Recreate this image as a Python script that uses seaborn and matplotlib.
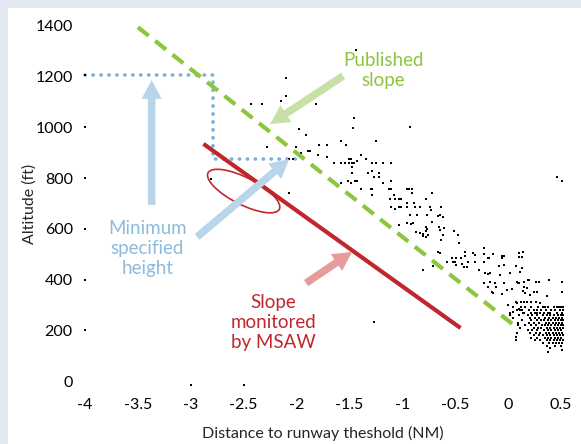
import matplotlib
matplotlib.use("Agg")
import matplotlib.pyplot as plt
import matplotlib.transforms as mtransforms
from matplotlib.patches import Ellipse, Rectangle
import seaborn as sns
import pandas as pd

# ---------------- data ----------------
# sparse recorded approaches (distance NM, altitude ft)
dist_nm = [
    -4.00, -4.00, -4.00, -4.00, -4.00, -4.00, -3.00, -2.50,
    -2.81, -2.07, -1.27, -1.44,
    -2.10, -2.10, -2.15, -2.43, -2.33, -1.82,
    -1.46, -1.47, -0.93,
    -1.98, -1.91, -2.28, -2.01, -1.89, -1.87,
    -1.79, -1.71, -1.58, -1.53, -1.25,
    -1.96, -1.80, -1.71, -2.07, -2.03,
    -1.65, -1.58, -1.54, -1.50, -1.50, -1.48, -1.46,
    -1.39, -1.34, -1.49, -1.43,
    -1.29, -1.25, -1.18, -1.11,
    -1.48, -1.29, -1.32, -1.48, -1.22, -1.22, -1.27, -1.18, -1.11,
    -1.51, -1.49, -1.45, -1.43, -1.58,
    -1.39, -1.30, -1.29, -1.13, -1.11, -0.96, -0.91, -0.94,
    -1.29, -1.08, -0.91, -0.72,
    -1.12, -1.07, -1.03, -0.78, -1.01,
    -0.96, -0.89,
    -1.11, -1.03, -1.01, -0.96, -0.88, -0.83, -0.74, -0.73, -0.63, -1.07,
    -0.93, -0.86, -0.77, -0.66, -0.64, -0.62,
    -0.96, -0.92, -0.90, -1.03, -0.72,
    -0.78, -0.77, -0.78, -0.80, -0.80, -0.78, -0.76,
    -0.65, -0.64, -0.61, -0.87, -0.83, -0.51, -0.47, -0.62, -0.63, -0.46,
    -0.71, -0.66, -0.80, -0.66, -0.64,
    -0.23, -0.41, -0.33, -0.31, -0.41,
    -0.23, -0.14, -0.06, 0.10, 0.10,
    -0.58, -0.53, -0.49, -0.50, -0.45,
    -0.42, -0.38, -0.31, -0.23, -0.19, -0.18,
    -0.09, -0.04, 0.07, 0.13, -0.28,
    -0.22, -0.19, -0.17, -0.08, 0.02, 0.11, 0.19,
    -0.23, -0.17, -0.12, -0.04, 0.08, 0.10,
    -0.19, -0.11, -0.01, 0.14, 0.18,
    -0.15, -0.14, -0.06,
    0.14, 0.13, -0.04, -0.06,
    -0.52, -0.49, -0.44, -0.39,
    0.09, 0.15, 0.20, 0.26, 0.29, 0.39, 0.51,
    0.15, 0.24, 0.27, 0.51, 0.16, 0.21, 0.37, 0.04,
    0.00, 0.07, 0.08, 0.12, 0.15, 0.18, 0.22, 0.26,
    0.30, 0.35, 0.38, 0.43, 0.46, 0.49, 0.52,
    0.10, 0.13, 0.27, 0.05, 0.02, 0.15, 0.27,
    0.02, 0.09, 0.08, 0.07, 0.075,
    0.40, 0.38, 0.51,
    0.46, 0.51,
]
alt_ft = [
    1205, 1000, 800, 600, 400, 200, -15, -15,
    796, 742, 233, 1305,
    1193, 1124, 1105, 1092, 1092, 1092,
    1036, 996, 1003,
    995, 971, 924, 924, 908, 908,
    932, 932, 948, 932, 946,
    900, 891, 883, 877, 877,
    861, 861, 861, 874, 861, 861, 861,
    892, 875, 875, 869,
    861, 861, 861, 861,
    842, 828, 820, 821, 821, 803, 803, 782, 790,
    790, 782, 790, 790, 782,
    756, 756, 756, 756, 756, 756, 756, 756,
    733, 733, 740, 740,
    719, 719, 719, 719, 719,
    700, 700,
    685, 685, 685, 685, 685, 685, 685, 674, 685, 677,
    655, 655, 655, 650, 655, 645,
    622, 619, 624, 615, 628,
    607, 600, 590, 580, 570, 566, 575,
    608, 595, 602, 589, 585, 591, 576, 576, 556, 543,
    455, 455, 437, 510, 503,
    526, 510, 503, 497, 493,
    499, 499, 494, 503, 490,
    470, 486, 486, 470, 486,
    451, 468, 470, 468, 486, 486,
    455, 457, 455, 444, 437,
    425, 421, 425, 418, 425, 431, 398,
    385, 392, 388, 385, 392, 388,
    372, 372, 359, 355, 366,
    352, 346, 343,
    510, 488, 493, 484,
    468, 457, 461, 451,
    385, 389, 398, 389, 392, 398, 389,
    369, 352, 352, 352, 346, 339, 336, 362,
    300, 313, 306, 313, 310, 313, 310, 310,
    306, 293, 293, 290, 290, 290, 290,
    283, 280, 280, 273, 267, 267, 267,
    260, 220, 190, 175, 160,
    129, 115, 122,
    806, 789,
]

# dense cluster near the threshold: altitude rows and the distances in each row
cluster_alt_ft = [290, 280, 270, 260, 250, 240, 230, 220, 210, 200, 190, 180, 170, 160, 150, 140]
cluster_dist_nm = [
    [0.05, 0.12, 0.16, 0.22, 0.28, 0.33, 0.38, 0.43, 0.47, 0.50],
    [0.08, 0.11, 0.20, 0.24, 0.27, 0.31, 0.36, 0.41, 0.44, 0.49, 0.52],
    [0.02, 0.14, 0.22, 0.25, 0.30, 0.34, 0.38, 0.40, 0.46, 0.51],
    [0.10, 0.19, 0.23, 0.27, 0.33, 0.37, 0.40, 0.43, 0.47, 0.50, 0.52],
    [0.05, 0.21, 0.25, 0.29, 0.35, 0.39, 0.42, 0.45, 0.48, 0.51],
    [0.13, 0.22, 0.27, 0.31, 0.34, 0.38, 0.41, 0.44, 0.47, 0.50, 0.52],
    [0.09, 0.20, 0.24, 0.29, 0.36, 0.39, 0.42, 0.45, 0.48, 0.51],
    [0.16, 0.22, 0.26, 0.32, 0.35, 0.38, 0.41, 0.44, 0.47, 0.50, 0.52],
    [0.11, 0.24, 0.28, 0.31, 0.37, 0.40, 0.43, 0.46, 0.49, 0.52],
    [0.19, 0.23, 0.27, 0.34, 0.38, 0.41, 0.44, 0.47, 0.50],
    [0.08, 0.21, 0.26, 0.30, 0.36, 0.39, 0.42, 0.45, 0.48, 0.51],
    [0.24, 0.29, 0.33, 0.37, 0.40, 0.43, 0.46, 0.49, 0.52],
    [0.22, 0.27, 0.35, 0.38, 0.41, 0.44, 0.47, 0.50],
    [0.25, 0.30, 0.37, 0.40, 0.43, 0.46, 0.49, 0.52],
    [0.33, 0.39, 0.42, 0.45, 0.48, 0.51],
    [0.37, 0.44, 0.50],
]

# reference lines
published_x = [-3.5, 0.1]
published_y = [1395, 205]
msaw_x = [-2.88, -0.45]
msaw_y = [935, 209]
msh_x = [-4.0, -2.79, -2.79, -1.95]
msh_y = [1205, 1205, 877, 877]

x_ticks = [-4, -3.5, -3, -2.5, -2, -1.5, -1, -0.5, 0, 0.5]
x_tick_labels = ["-4", "-3.5", "-3", "-2.5", "-2", "-1.5", "-1", "-0.5", "0", "0.5"]
y_ticks = [0, 200, 400, 600, 800, 1000, 1200, 1400]

# ---------------- build table ----------------
xs = list(dist_nm)
ys = list(alt_ft)
for a, row in zip(cluster_alt_ft, cluster_dist_nm):
    for d in row:
        xs.append(d)
        ys.append(a)
df = pd.DataFrame({"dist": xs, "alt": ys})

# ---------------- style ----------------
sns.set_style("white")
plt.rcParams["font.family"] = ["Lato", "DejaVu Sans"]

GREEN = "#8cc63f"
GREEN_L = "#c6e0a6"
BLUE = "#7ab3d9"
BLUE_T = "#8dbbdc"
BLUE_L = "#b9d5ea"
RED = "#c0272d"
RED_L = "#e89b9b"

fig = plt.figure(figsize=(5.81, 4.44), dpi=100)
fig.patch.set_facecolor("#e4e9f1")
fig.patches.append(Rectangle((8 / 581, 0), 1, 436 / 444, transform=fig.transFigure,
                             facecolor="white", edgecolor="none", zorder=-10))
ax = fig.add_axes([0.1372, 0.1133, 0.8375, 0.8568])
ax.set_facecolor("none")

sns.scatterplot(data=df, x="dist", y="alt", ax=ax, marker="s", s=3.6,
                color="#000000", linewidth=0, zorder=3)

# lines
ax.plot(msh_x, msh_y, color=BLUE, lw=2.6, linestyle=(0, (0.1, 2.1)),
        dash_capstyle="round", zorder=2)
ax.plot(published_x, published_y, color=GREEN, lw=3.0, linestyle=(0, (3.3, 2.0)),
        dash_capstyle="butt", zorder=4)
ax.plot(msaw_x, msaw_y, color=RED, lw=3.0, solid_capstyle="butt", zorder=4)

# ellipse (display-sized, centred in data coords)
ell_tr = fig.dpi_scale_trans + mtransforms.ScaledTranslation(-2.50, 749, ax.transData)
ax.add_patch(Ellipse((0, 0), 0.80, 0.27, angle=-27, transform=ell_tr,
                     facecolor="none", edgecolor=RED, lw=1.2, zorder=4))

# arrows
def arrow(tail, head, color):
    ax.annotate("", xy=head, xytext=tail,
                arrowprops=dict(arrowstyle="simple,head_length=0.8,head_width=0.85,tail_width=0.32",
                                color=color, mutation_scale=17, shrinkA=0, shrinkB=0,
                                lw=0), zorder=5)

arrow((-1.56, 1203), (-2.25, 1013), GREEN_L)
arrow((-3.37, 694), (-3.37, 1187), BLUE_L)
arrow((-2.94, 568), (-2.07, 875), BLUE_L)
arrow((-1.91, 386), (-1.475, 509), RED_L)

# annotation texts
ax.text(-1.18, 1224, "Published\nslope", color=GREEN, fontsize=13.5, ha="center",
        va="center", linespacing=1.22, zorder=6)
ax.text(-3.41, 522, "Minimum\nspecified\nheight", color=BLUE_T, fontsize=13.5,
        ha="center", va="center", linespacing=1.22, zorder=6)
ax.text(-2.22, 230, "Slope\nmonitored\nby MSAW", color=RED, fontsize=13.5,
        ha="center", va="center", linespacing=1.22, zorder=6)

# axes
ax.set_xlim(-4.05, 0.55)
ax.set_ylim(-50, 1450)
ax.set_xticks(x_ticks)
ax.set_xticklabels(x_tick_labels)
ax.set_yticks(y_ticks)
ax.tick_params(axis="both", length=0, labelsize=11.5, colors="black")
ax.tick_params(axis="y", pad=5)
ax.tick_params(axis="x", pad=3)
for s in ax.spines.values():
    s.set_visible(False)
ax.grid(False)
ax.set_xlabel("Distance to runway theshold (NM)", fontsize=11.5, labelpad=10)
ax.set_ylabel("Altitude (ft)", fontsize=11.5, labelpad=-1)

fig.savefig("out.png", dpi=100, facecolor=fig.get_facecolor())
